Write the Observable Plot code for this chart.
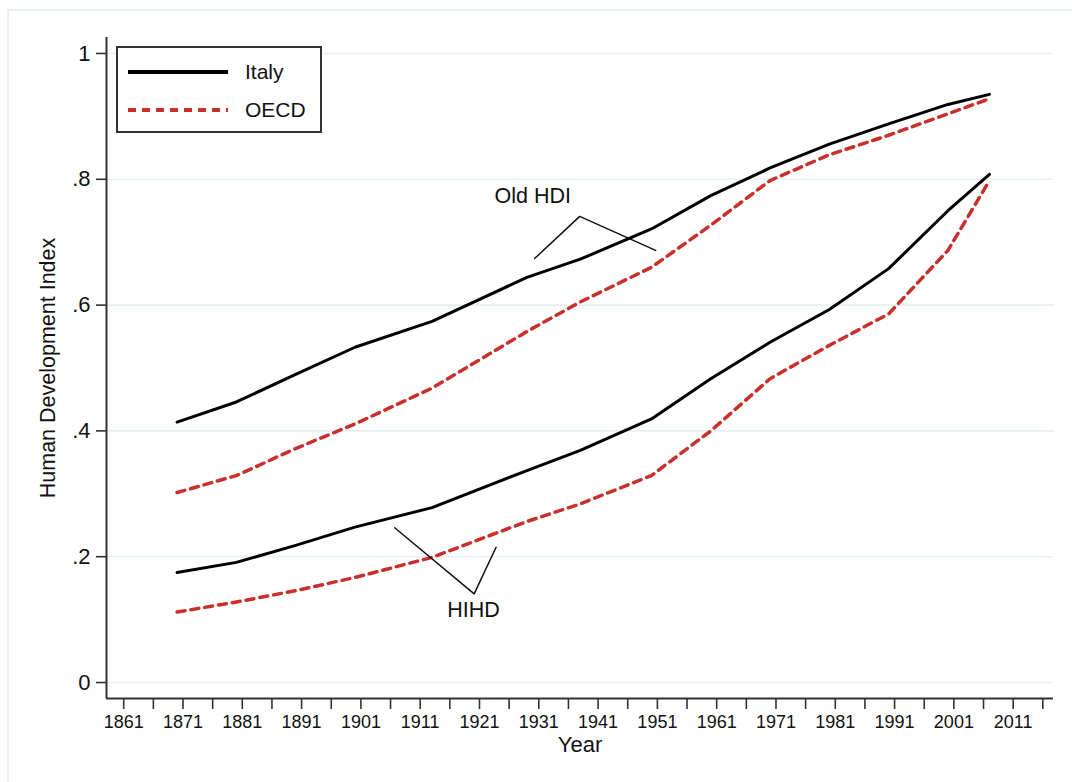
<!DOCTYPE html>
<html>
<head>
<meta charset="utf-8">
<script src="https://cdn.jsdelivr.net/npm/d3@7"></script>
<script src="https://cdn.jsdelivr.net/npm/@observablehq/plot@0.6"></script>
<style>
  html, body { margin: 0; padding: 0; background: #fff; overflow: hidden; }
  #wrap { position: relative; width: 1072px; height: 782px; font-family: "Liberation Sans", Arial, Helvetica, sans-serif; }
  #outer { position: absolute; left: 7px; top: 9px; width: 1200px; height: 900px; border-left: 2px solid #e8f0f2; border-top: 2px solid #e8f0f2; box-sizing: border-box; }
  #legend { position: absolute; left: 116px; top: 46px; width: 206px; height: 87px; border: 2px solid #333; box-sizing: border-box; background: #fff; }
  #legend .row { position: absolute; left: 9px; height: 24px; display: flex; align-items: center; }
  #legend .row span { font-size: 21px; color: #111; margin-left: 16px; }
  svg { display: block; }
</style>
</head>
<body>
<div id="wrap">
  <div id="outer"></div>
  <div id="chart"></div>
  <div id="legend">
    <div class="row" style="top:12px"><svg width="102" height="8"><line x1="1" y1="4" x2="101" y2="4" stroke="#000" stroke-width="4"/></svg><span>Italy</span></div>
    <div class="row" style="top:50px"><svg width="102" height="8"><line x1="1" y1="4" x2="101" y2="4" stroke="#c9302c" stroke-width="4" stroke-dasharray="8,6"/></svg><span>OECD</span></div>
  </div>
</div>
<script>
// ---- data ----
const years = [1870, 1880, 1890, 1900, 1913, 1929, 1938, 1950, 1960, 1970, 1980, 1990, 2000, 2007];
const italyOldHDI = [0.414, 0.446, 0.490, 0.533, 0.574, 0.644, 0.673, 0.721, 0.774, 0.818, 0.856, 0.888, 0.919, 0.935];
const oecdOldHDI  = [0.302, 0.329, 0.372, 0.411, 0.468, 0.558, 0.605, 0.660, 0.727, 0.798, 0.839, 0.870, 0.904, 0.928];
const italyHIHD   = [0.175, 0.191, 0.218, 0.247, 0.278, 0.337, 0.369, 0.419, 0.483, 0.541, 0.593, 0.658, 0.750, 0.808];
const oecdHIHD    = [0.112, 0.128, 0.146, 0.167, 0.199, 0.256, 0.284, 0.329, 0.400, 0.483, 0.536, 0.586, 0.687, 0.798];

const yTicks = [0, 0.2, 0.4, 0.6, 0.8, 1];
const xMajorTicks = [1861, 1871, 1881, 1891, 1901, 1911, 1921, 1931, 1941, 1951, 1961, 1971, 1981, 1991, 2001, 2011];
const xMinorTicks = [1866, 1876, 1886, 1896, 1906, 1916, 1926, 1936, 1946, 1956, 1966, 1976, 1986, 1996, 2006, 2016];

// annotation anchors (data units)
const oldHdiLeader = [{year: 1930.3, v: 0.674}, {year: 1937.9, v: 0.741}, {year: 1950.7, v: 0.687}];
const hihdLeader   = [{year: 1906.7, v: 0.246}, {year: 1920.1, v: 0.141}, {year: 1923.8, v: 0.215}];
const annotationLabels = [{year: 1930, v: 0.7735, text: "Old HDI"}, {year: 1920, v: 0.1145, text: "HIHD"}];

const xDomain = [1858.1, 2017.8];
const yDomain = [-0.0254, 1.0254];

// ---- build table ----
const series = [
  {name: "Italy Old", country: "Italy", values: italyOldHDI},
  {name: "OECD Old", country: "OECD", values: oecdOldHDI},
  {name: "Italy HIHD", country: "Italy", values: italyHIHD},
  {name: "OECD HIHD", country: "OECD", values: oecdHIHD}
];
const rows = series.flatMap(s => years.map((yr, i) => ({year: yr, v: s.values[i], name: s.name, country: s.country})));
const italyRows = rows.filter(r => r.country === "Italy");
const oecdRows = rows.filter(r => r.country === "OECD");

const yFmt = d => d === 0 ? "0" : d === 1 ? "1" : String(d).replace(/^0\./, ".");

const plot = Plot.plot({
  width: 1072,
  height: 782,
  marginLeft: 106,
  marginRight: 19,
  marginTop: 37,
  marginBottom: 84,
  style: {fontFamily: '"Liberation Sans", Arial, Helvetica, sans-serif', color: "#111", background: "transparent"},
  x: {domain: xDomain},
  y: {domain: yDomain},
  marks: [
    Plot.gridY(yTicks, {stroke: "#e6eff1", strokeOpacity: 1, strokeWidth: 1.6}),
    Plot.ruleX([xDomain[0]], {stroke: "#333", strokeWidth: 2}),
    Plot.ruleY([yDomain[0]], {stroke: "#333", strokeWidth: 2}),
    Plot.axisY(yTicks, {tickSize: 10, tickFormat: () => "", label: null, stroke: "#333", strokeWidth: 1.6}),
    Plot.axisX(xMajorTicks, {tickSize: 11, tickFormat: () => "", label: null, stroke: "#333", strokeWidth: 1.6}),
    Plot.axisX(xMinorTicks, {tickSize: 11, tickFormat: () => "", label: null, stroke: "#333", strokeWidth: 1.6}),
    Plot.text(yTicks, {y: d => d, text: yFmt, frameAnchor: "left", dx: -16, textAnchor: "end", lineAnchor: "middle", fontSize: 22, fill: "#111"}),
    Plot.text(xMajorTicks, {x: d => d, text: d => String(d), frameAnchor: "bottom", dy: 24, lineAnchor: "middle", fontSize: 18, fill: "#111"}),
    Plot.text(["Human Development Index"], {frameAnchor: "left", dx: -58, rotate: -90, textAnchor: "middle", lineAnchor: "middle", fontSize: 21.5, fill: "#111"}),
    Plot.text(["Year"], {frameAnchor: "bottom", dy: 46, lineAnchor: "middle", fontSize: 22, fill: "#111"}),
    Plot.line(oecdRows, {x: "year", y: "v", z: "name", stroke: "#c9302c", strokeWidth: 3.5, strokeDasharray: "8,6", strokeLinejoin: "round"}),
    Plot.line(italyRows, {x: "year", y: "v", z: "name", stroke: "#000", strokeWidth: 3, strokeLinejoin: "round"}),
    Plot.line(oldHdiLeader, {x: "year", y: "v", stroke: "#111", strokeWidth: 1.5}),
    Plot.line(hihdLeader, {x: "year", y: "v", stroke: "#111", strokeWidth: 1.5}),
    Plot.text(annotationLabels, {x: "year", y: "v", text: "text", fontSize: 21.5, fill: "#111"})
  ]
});
document.getElementById("chart").appendChild(plot);
</script>
</body>
</html>
